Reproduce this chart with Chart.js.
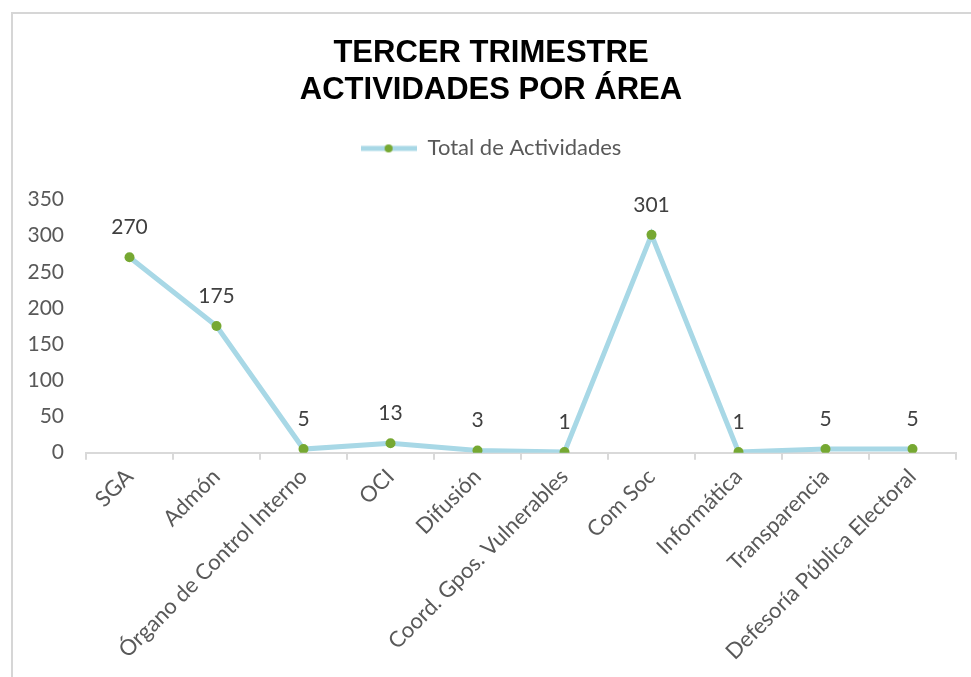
<!DOCTYPE html>
<html>
<head>
<meta charset="utf-8">
<script src="https://cdn.jsdelivr.net/npm/chart.js@4"></script>
<style>
  html, body { margin: 0; padding: 0; background: #fff; }
  #marco {
    position: absolute; left: 11px; top: 12px; right: 0; bottom: 0;
    border-top: 2px solid #d6d6d6; border-left: 2px solid #d6d6d6;
  }
  #grafica { position: absolute; left: 0; top: 0; }
</style>
</head>
<body>
<div id="marco"></div>
<canvas id="grafica" width="971" height="677"></canvas>
<script>
var areas = ['SGA', 'Admón', 'Órgano de Control Interno', 'OCI', 'Difusión',
  'Coord. Gpos. Vulnerables', 'Com Soc', 'Informática', 'Transparencia',
  'Defesoría Pública Electoral'];
var totalActividades = [270, 175, 5, 13, 3, 1, 301, 1, 5, 5];
var tituloLineas = ['TERCER TRIMESTRE', 'ACTIVIDADES POR ÁREA'];

var colorLinea = '#a8d8e6';
var colorPunto = '#76a832';

// icono de la leyenda: tramo de línea con el punto en medio
var icono = document.createElement('canvas');
icono.width = 56;
icono.height = 12;
var ic = icono.getContext('2d');
ic.strokeStyle = colorLinea;
ic.lineWidth = 5;
ic.beginPath();
ic.moveTo(0, 6);
ic.lineTo(56, 6);
ic.stroke();
ic.fillStyle = colorPunto;
ic.beginPath();
ic.arc(28, 6, 4, 0, Math.PI * 2);
ic.fill();

// más aire debajo de la leyenda
var margenLeyenda = {
  id: 'margenLeyenda',
  beforeInit: function (chart) {
    var fit = chart.legend.fit;
    chart.legend.fit = function () {
      fit.bind(chart.legend)();
      this.height += 30;
    };
  }
};

// etiquetas con el valor encima de cada punto
var etiquetasValor = {
  id: 'etiquetasValor',
  afterDatasetsDraw: function (chart) {
    var ctx = chart.ctx;
    var meta = chart.getDatasetMeta(0);
    ctx.save();
    ctx.font = '21px Lato';
    ctx.fillStyle = '#404040';
    ctx.textAlign = 'center';
    ctx.textBaseline = 'middle';
    meta.data.forEach(function (p, i) {
      ctx.fillText(chart.data.datasets[0].data[i], p.x, p.y - 30);
    });
    ctx.restore();
  }
};

var ctx = document.getElementById('grafica').getContext('2d');
var chart = new Chart(ctx, {
  type: 'line',
  data: {
    labels: areas,
    datasets: [{
      label: 'Total de Actividades',
      data: totalActividades,
      borderColor: colorLinea,
      borderWidth: 5,
      backgroundColor: colorPunto,
      pointBackgroundColor: colorPunto,
      pointBorderColor: colorPunto,
      pointRadius: 5,
      pointBorderWidth: 0,
      tension: 0
    }]
  },
  options: {
    responsive: false,
    animation: false,
    layout: { padding: { top: 20, left: 26, right: 15, bottom: 8 } },
    plugins: {
      title: {
        display: true,
        text: tituloLineas,
        color: '#000',
        font: { family: 'Liberation Sans', size: 31, weight: 'bold', lineHeight: 1.2 },
        padding: { top: 15, bottom: 18 }
      },
      legend: {
        labels: {
          usePointStyle: true,
          pointStyle: icono,
          pointStyleWidth: 56,
          color: '#595959',
          font: { family: 'Lato', size: 22 },
          padding: 10
        }
      },
      tooltip: { enabled: false }
    },
    scales: {
      x: {
        offset: true,
        grid: {
          offset: true,
          drawOnChartArea: false,
          color: '#d9d9d9',
          tickLength: 7,
          lineWidth: 2
        },
        border: { color: '#d9d9d9', width: 2 },
        ticks: {
          minRotation: 45,
          maxRotation: 45,
          color: '#595959',
          font: { family: 'Lato', size: 22 },
          padding: 4
        }
      },
      y: {
        min: 0,
        max: 350,
        grid: { display: false },
        border: { display: false },
        afterFit: function (scale) { scale.width = 60; },
        ticks: {
          stepSize: 50,
          color: '#595959',
          font: { family: 'Lato', size: 21 },
          padding: 14
        }
      }
    }
  },
  plugins: [margenLeyenda, etiquetasValor]
});
</script>
</body>
</html>
